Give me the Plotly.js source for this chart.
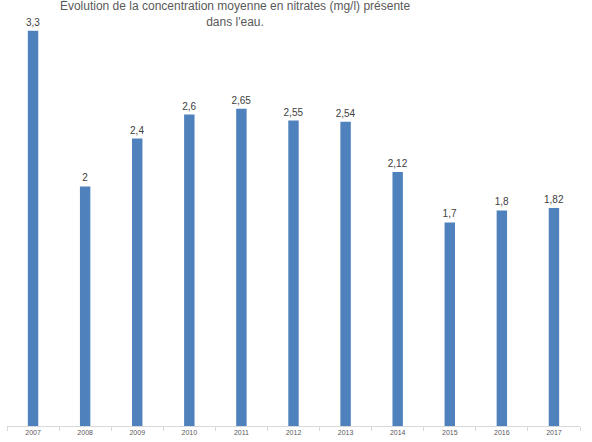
<!DOCTYPE html>
<html><head><meta charset="utf-8">
<script src="https://cdn.plot.ly/plotly-3.0.1.min.js"></script>
<style>body{margin:0;padding:0;background:#fff}#c{width:592px;height:442px}</style>
</head><body><div id="c"></div>
<script>
const years = ["2007","2008","2009","2010","2011","2012","2013","2014","2015","2016","2017"];
const values = [3.3, 2, 2.4, 2.6, 2.65, 2.55, 2.54, 2.12, 1.7, 1.8, 1.82];
const labels = ["3,3","2","2,4","2,6","2,65","2,55","2,54","2,12","1,7","1,8","1,82"];
const titleLine1 = "Évolution de la concentration moyenne en nitrates (mg/l) présente";
const titleLine2 = "dans l'eau.";

const trace = {
  type: "bar", x: years, y: values,
  marker: {color: "#4f81bd"},
  text: labels, textposition: "outside", cliponaxis: false, constraintext: "none",
  textfont: {family: "Liberation Sans, Arial, sans-serif", size: 10, color: "#404040"},
  hoverinfo: "none"
};
const layout = {
  width: 592, height: 442,
  margin: {l: 7, r: 12, t: 20, b: 16},
  paper_bgcolor: "#fff", plot_bgcolor: "#fff",
  bargap: 0.8, showlegend: false,
  title: {text: titleLine1 + "<br>" + titleLine2, xref: "container", x: 0.397, xanchor: "center",
          yref: "container", y: 0.977, yanchor: "bottom",
          font: {family: "Liberation Sans, Arial, sans-serif", size: 12, color: "#595959"}},
  xaxis: {type: "category", showline: true, linecolor: "#d9d9d9", linewidth: 1,
          ticks: "outside", tickson: "boundaries", ticklen: 4, tickcolor: "#d9d9d9",
          tickfont: {family: "Liberation Sans, Arial, sans-serif", size: 7, color: "#595959"},
          showgrid: false, zeroline: false, fixedrange: true},
  yaxis: {range: [0, 3.39], visible: false, showgrid: false, zeroline: false, fixedrange: true}
};
Plotly.newPlot("c", [trace], layout, {displayModeBar: false, staticPlot: true});
</script></body></html>
